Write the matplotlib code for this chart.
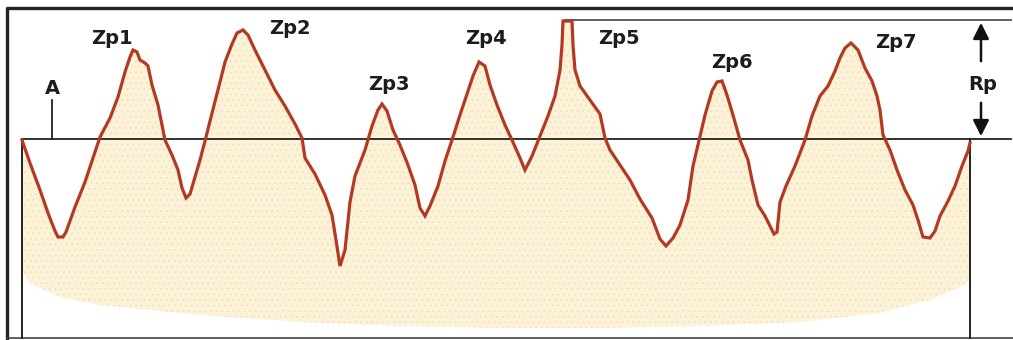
import numpy as np
import matplotlib.pyplot as plt

# Profile trace (x along the sample, y = depth in picture units, downward)
prof_x = [22, 30, 40, 48, 55, 58, 63, 66, 75, 85, 95, 100, 110, 118, 125, 130, 133,
          137, 140, 145, 148, 152, 158, 162, 165, 172, 178, 182, 186,
          190, 195, 200, 205, 210, 220, 225, 232, 237, 243,
          248, 255, 265, 275, 285, 295, 302, 305, 315, 325, 332, 336, 340,
          345, 350, 355, 365, 372, 378, 382,
          387, 393, 400, 408, 415, 420, 425,
          430, 438, 445, 452, 460, 468, 473, 479,
          485, 490, 497, 505, 512, 520, 525,
          532, 540, 548, 555, 560, 562, 563, 572,
          573, 575, 580, 590, 600, 605, 610, 620, 630, 640, 652, 660, 666,
          673, 680, 688, 693, 700, 705, 712, 717, 722,
          727, 733, 740, 748, 752, 758, 765, 770, 774,
          777, 780, 786, 795, 805, 812, 820, 828, 835, 840, 845, 851,
          858, 865, 872, 877, 880, 883, 890, 897, 905, 913, 918, 923, 930,
          935, 940, 948, 955, 962, 968, 970]
prof_y = [140, 163, 190, 213, 231, 237, 237, 232, 207, 182, 152, 137, 118, 97, 72, 57, 50,
          52, 60, 63, 66, 85, 105, 125, 140, 155, 170, 188, 198,
          194, 177, 160, 141, 121, 82, 62, 44, 33, 30,
          35, 50, 70, 90, 106, 124, 138, 158, 174, 195, 215, 240, 266,
          250, 202, 176, 150, 126, 110, 104,
          111, 130, 145, 165, 185, 208, 216,
          206, 186, 161, 140, 115, 91, 76, 62,
          66, 85, 105, 125, 140, 158, 170,
          156, 136, 116, 96, 70, 45, 21, 21,
          45, 70, 86, 100, 114, 138, 150, 165, 180, 199, 218, 239, 246,
          238, 225, 200, 166, 136, 115, 91, 82, 81,
          95, 115, 140, 160, 180, 205, 216, 226, 234,
          232, 202, 186, 166, 140, 116, 96, 86, 71, 58, 48, 43,
          50, 68, 81, 96, 110, 135, 150, 170, 190, 205, 220, 237, 238,
          231, 216, 201, 186, 166, 151, 143]

# Lower edge of the shaded body
base_x = [22, 30, 60, 100, 150, 200, 300, 400, 500, 600, 700, 800, 880, 930, 960, 970]
base_y = [272, 283, 297, 305, 310, 315, 322, 326, 328, 328, 326, 322, 313, 300, 287, 281]

mean_y = 139
peak_y = 20

labels = ['Zp1', 'Zp2', 'Zp3', 'Zp4', 'Zp5', 'Zp6', 'Zp7']
label_x = [112, 290, 389, 486, 619, 732, 896]
label_y = [38, 28, 85, 38, 38, 63, 43]

plt.rcParams['hatch.linewidth'] = 0.3

fig = plt.figure(figsize=(10.13, 3.4), dpi=100)
ax = fig.add_axes([0, 0, 1, 1])
ax.set_xlim(0, 1013)
ax.set_ylim(340, 0)
ax.axis('off')

# Shaded material
px = np.array(prof_x, dtype=float)
py = np.array(prof_y, dtype=float)
by = np.interp(px, base_x, base_y)
ax.fill_between(px, py, by, facecolor='#fcf2d8', edgecolor='#f2d2b4',
                hatch='...', linewidth=0, zorder=1)

# Profile line
ax.plot(px, py, color='#b23a22', linewidth=2.3, solid_joinstyle='miter', zorder=4)

# Frame (open on the right)
ax.plot([1013, 7, 7], [8, 8, 338], color='#222222', linewidth=2.4, zorder=3)
ax.plot([7, 1013], [338, 338], color='#444444', linewidth=1.2, zorder=3)
ax.plot([22, 22], [mean_y, 338], color='#222222', linewidth=1.4, zorder=3)
ax.plot([970, 970], [mean_y, 338], color='#222222', linewidth=1.4, zorder=3)
ax.plot([22, 1011], [mean_y, mean_y], color='#222222', linewidth=1.3, zorder=3)
ax.plot([565, 1011], [peak_y, peak_y], color='#555555', linewidth=1.3, zorder=3)

font = dict(fontsize=14, fontweight='bold', family='DejaVu Sans',
            ha='center', va='center', color='#1c1c1c')

# Marker A
ax.plot([52, 52], [100, mean_y], color='#222222', linewidth=1.3, zorder=3)
ax.text(52, 88, 'A', **font)

# Peak labels
for lab, lx, ly in zip(labels, label_x, label_y):
    ax.text(lx, ly, lab, **font)

# Rp dimension
ax.annotate('', xy=(981, peak_y), xytext=(981, 64),
            arrowprops=dict(arrowstyle='-|>', color='#111111', lw=1.8, mutation_scale=24))
ax.annotate('', xy=(981, mean_y), xytext=(981, 100),
            arrowprops=dict(arrowstyle='-|>', color='#111111', lw=1.8, mutation_scale=24))
ax.text(983, 85, 'Rp', **font)

fig.savefig('out.png', dpi=100)
